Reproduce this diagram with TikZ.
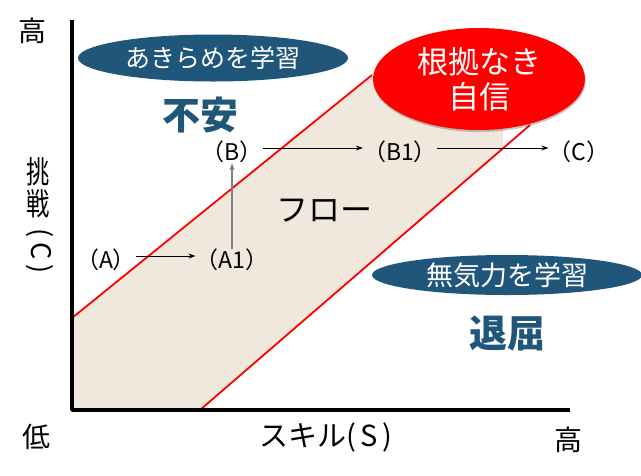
\documentclass[tikz,border=0pt]{standalone}
\usepackage{fontspec}
\setmainfont{Noto Sans CJK JP}
\usetikzlibrary{shapes.geometric,arrows.meta,shadows}
\definecolor{navy}{RGB}{31,86,122}
\definecolor{beige}{RGB}{240,232,220}
\definecolor{pred}{RGB}{255,0,0}
\definecolor{arrgray}{RGB}{128,128,128}
\begin{document}
\begin{tikzpicture}[x=1pt,y=-1pt,
  lbl/.style={inner sep=0, font=\fontsize{23}{23}\selectfont},
  ax/.style={inner sep=0, font=\fontsize{28}{28}\selectfont},
  bluebub/.style={ellipse, fill=navy, text=white, inner sep=0},
  zone/.style={inner sep=0, text=navy, font=\fontsize{38}{38}\selectfont\bfseries},
  arr/.style={-{Stealth[length=7pt,width=5pt]}, line width=0.9pt, black},
  redline/.style={pred, line width=1.8pt}]
\useasboundingbox (0,0) rectangle (641,475);
\fill[white] (0,0) rectangle (641,475);
% flow band
\fill[beige] (72,410) -- (72,318) -- (372,75) -- (503,122) -- (503,150) -- (200,410) -- cycle;
\draw[redline] (72,318) -- (372,75);
\draw[redline] (200,410) -- (530,125);
% axes
\draw[line width=3.5pt, line join=round] (72,20) -- (72,410) -- (570,410);
% bubbles
\node[bluebub, minimum width=270pt, minimum height=47pt, font=\fontsize{25}{25}\selectfont] (akirame) at (213,58) {あきらめを学習};
\node[bluebub, minimum width=270pt, minimum height=40pt, font=\fontsize{27}{27}\selectfont] (muki) at (507,275) {無気力を学習};
\node[ellipse, fill=pred, text=white, minimum width=212pt, minimum height=102pt, inner sep=0, align=center, font=\fontsize{31}{35}\selectfont, drop shadow={shadow xshift=0.5pt, shadow yshift=-2pt, opacity=0.22, fill=black}] (konkyo) at (479,79) {根拠なき\\自信};
% zones
\node[zone] (fuan) at (200,115) {不安};
\node[zone] (taikutsu) at (507,333) {退屈};
\node[inner sep=0, font=\fontsize{32}{32}\selectfont] (flow) at (324,211) {フロー};
% points
\node[lbl] (A) at (106,260) {（A）};
\node[lbl] (A1) at (232,260) {（A1）};
\node[lbl] (B) at (232,152) {（B）};
\node[lbl] (B1) at (400,152) {（B1）};
\node[lbl] (C) at (579,152) {（C）};
\draw[arr] ([yshift=4pt]A.east) -- ([yshift=4pt]A1.west);
\draw[arr] ([yshift=4pt]B.east) -- ([yshift=4pt]B1.west);
\draw[arr] ([yshift=4pt]B1.east) -- ([yshift=4pt]C.west);
\draw[-{Stealth[length=7pt,width=5pt]}, arrgray, line width=1.8pt] (A1.north) -- (B.south);
% axis labels
\node[ax] (hiY) at (33,31) {高};
\node[ax] (lo) at (37,437) {低};
\node[ax] (hiX) at (568,440) {高};
\node[inner sep=0, font=\fontsize{29}{29}\selectfont] (skill) at (326,437) {スキル(\,S\,)};
\node[inner sep=0, xscale=0.75, font=\fontsize{31}{31}\selectfont] (cho) at (38,172) {挑};
\node[inner sep=0, xscale=0.75, font=\fontsize{31}{31}\selectfont] (sen) at (38,204) {戦};
\node[inner sep=0, rotate=-90, font=\fontsize{27}{27}\selectfont] (cc) at (40,251) {(\,C\,)};
\end{tikzpicture}
\end{document}
